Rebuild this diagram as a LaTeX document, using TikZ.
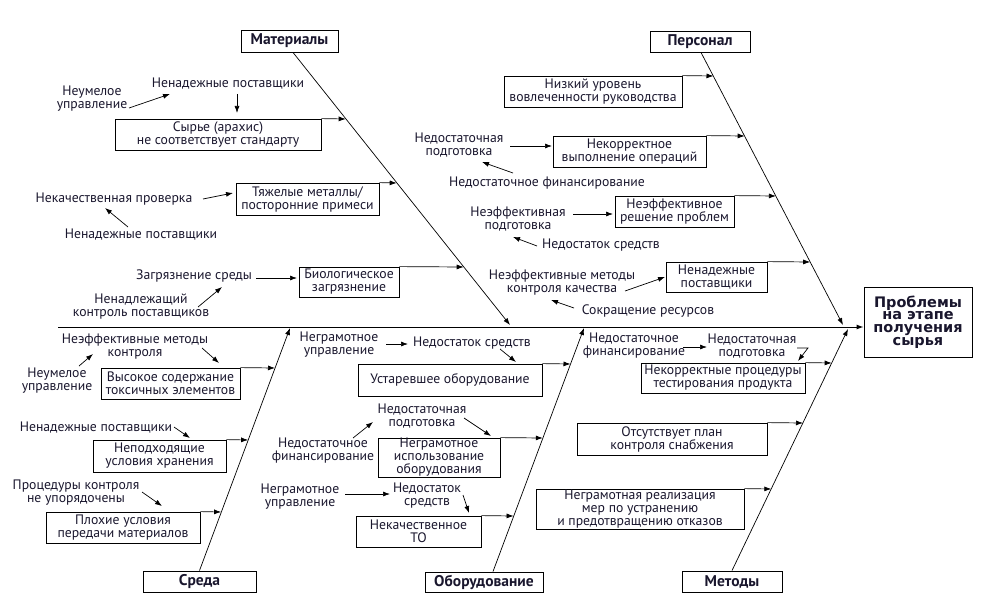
\documentclass[tikz,border=0pt]{standalone}
\usepackage{fontspec}
\setmainfont{PT Sans}
\newfontfamily\headfont{DejaVu Sans}
\usetikzlibrary{arrows.meta,calc}
\definecolor{txt}{RGB}{25,22,45}
\begin{document}
\begin{tikzpicture}[x=1pt,y=-1pt,
 every node/.style={font=\fontsize{13.7}{13}\selectfont, text=txt, align=center, inner sep=1pt},
 cbox/.style={draw=black, line width=0.8pt, inner sep=0pt},
 catbox/.style={draw=black, line width=0.9pt, inner sep=0pt, font=\fontsize{15.5}{16}\selectfont\bfseries},
 arr/.style={-{Latex[length=7pt,width=5pt]}, line width=0.7pt},
]
\useasboundingbox (0,0) rectangle (984,607);
% category boxes
\node[catbox, minimum width=97, minimum height=22] (mat) at (289.5,41) {Материалы};
\node[catbox, minimum width=100, minimum height=21] (per) at (700,41.5) {Персонал};
\node[catbox, minimum width=113, minimum height=21] (sre) at (199.5,581.5) {Среда};
\node[catbox, minimum width=118, minimum height=20] (obo) at (484,582) {Оборудование};
\node[catbox, minimum width=100, minimum height=21] (met) at (732,581.5) {Методы};
\node[draw=black, line width=0.9pt, minimum width=108, minimum height=70, inner sep=0pt,
      font=\headfont\fontsize{14.5}{12.8}\selectfont\bfseries] (head) at (918,322) {Проблемы\\на этапе\\получения\\сырья};
% spine
\coordinate (sp0) at (58,327);
\draw[arr, line width=1pt] (sp0) -- (sp0 -| head.west);
% bone tips
\coordinate (mtip) at (510,325);
\coordinate (ptip) at (843,325);
\coordinate (stip) at (290,328);
\coordinate (otip) at (584,328);
\coordinate (metip) at (848,329);
\draw[arr] ([xshift=3.5pt]mat.south) -- (mtip);
\draw[arr] ([xshift=1pt]per.south) -- (ptip);
\draw[arr] (sre.north) -- (stip);
\draw[arr] ([xshift=9pt]obo.north) -- (otip);
\draw[arr] (met.north) -- (metip);
% ---------- Materials
\node[cbox, minimum width=206, minimum height=31] (a1) at (218,134.5) {Сырье (арахис)\\не соответствует стандарту};
\node[cbox, minimum width=143, minimum height=32] (a2) at (307.5,199) {Тяжелые металлы/\\посторонние примеси};
\node[cbox, minimum width=100, minimum height=30] (a3) at (349,282) {Биологическое\\загрязнение};
\coordinate (ma1) at (345.7,119);
\coordinate (ma2) at (396.7,183);
\coordinate (ma3) at (463.7,267);
\draw[arr] (a1.north east) -- (ma1);
\draw[arr] (a2.north east) -- (ma2);
\draw[arr] (a3.north east) -- (ma3);
\node (nemu1) at (92,99) {Неумелое\\управление};
\node (nenad1) at (228,84) {Ненадежные поставщики};
\node (nekach) at (114,199) {Некачественная проверка};
\node (nenad2) at (141,235) {Ненадежные поставщики};
\node (zagr) at (194,276) {Загрязнение среды};
\node (nenadl) at (141,307) {Ненадлежащий\\контроль поставщиков};
\draw[arr] ($(nemu1)+(37,9)$) -- ($(nenad1)+(-58,10)$);
\draw[arr] ($(nenad1)+(9,10)$) -- ($(a1)+(19,-21.5)$);
\draw[arr] ($(nekach)+(89,0)$) -- ($(a2)+(-74.5,-6)$);
\draw[arr] ($(nenad2)+(-13,-8)$) -- ($(nekach)+(-9,9)$);
\draw[arr] ($(zagr)+(62,2)$) -- ($(a3)+(-52,-4)$);
\draw[arr] ($(nenadl)+(57,0)$) -- ($(zagr)+(28,11)$);
% ---------- Personnel
\node[cbox, minimum width=178, minimum height=31] (p1) at (593,91.5) {Низкий уровень\\вовлеченности руководства};
\node[cbox, minimum width=153, minimum height=31] (p2) at (629.5,151.5) {Некорректное\\выполнение операций};
\node[cbox, minimum width=119, minimum height=31] (p3) at (674.5,211.5) {Неэффективное\\решение проблем};
\node[cbox, minimum width=101, minimum height=30] (p4) at (716.5,277) {Ненадежные\\поставщики};
\coordinate (mp1) at (713.5,76);
\coordinate (mp2) at (744.7,136);
\coordinate (mp3) at (775.9,196);
\coordinate (mp4) at (810.2,262);
\draw[arr] (p1.north east) -- (mp1);
\draw[arr] (p2.north east) -- (mp2);
\draw[arr] (p3.north east) -- (mp3);
\draw[arr] (p4.north east) -- (mp4);
\node (nedpodg1) at (459,145) {Недостаточная\\подготовка};
\node (nedfin1) at (547,183) {Недостаточное финансирование};
\node (neefpodg) at (518,219) {Неэффективная\\подготовка};
\node (nedsr1) at (601,245) {Недостаток средств};
\node (neefmet) at (562,283) {Неэффективные методы\\контроля качества};
\node (sokr) at (648,311) {Сокращение ресурсов};
\draw[arr] ($(nedpodg1)+(51,1)$) -- ($(p2)+(-77.5,-5.5)$);
\draw[arr] ($(nedfin1)+(-34,-10)$) -- ($(nedpodg1)+(23,17)$);
\draw[arr] ($(neefpodg)+(55,-5)$) -- ($(p3)+(-61.5,2.5)$);
\draw[arr] ($(nedsr1)+(-64,1)$) -- ($(neefpodg)+(-5,18)$);
\draw[arr] ($(neefmet)+(63,8)$) -- ($(p4)+(-51.5,0)$);
\draw[arr] ($(sokr)+(-74,-3)$) -- ($(neefmet)+(-11,17)$);
% ---------- Environment
\node[cbox, minimum width=139, minimum height=31] (s1) at (170.5,383.5) {Высокое содержание\\токсичных элементов};
\node[cbox, minimum width=133, minimum height=32] (s2) at (159.5,456) {Неподходящие\\условия хранения};
\node[cbox, minimum width=154, minimum height=31] (s3) at (123,527.5) {Плохие условия\\передачи материалов};
\coordinate (ms1) at (275.0,368);
\coordinate (ms2) at (248.1,440);
\coordinate (ms3) at (221.1,512);
\draw[arr] (s1.north east) -- (ms1);
\draw[arr] (s2.north east) -- (ms2);
\draw[arr] (s3.north east) -- (ms3);
\node (neefk) at (135,347) {Неэффективные методы\\контроля};
\node (nemu2) at (57,381) {Неумелое\\управление};
\node (nenad3) at (96,428) {Ненадежные поставщики};
\node (proc) at (76,493) {Процедуры контроля\\не упорядочены};
\draw[arr] ($(neefk)+(67,1)$) -- ($(s1)+(48.5,-20.5)$);
\draw[arr] ($(nemu2)+(22,-15)$) -- ($(neefk)+(-42,7)$);
\draw[arr] ($(nenad3)+(78,-1)$) -- ($(s2)+(30.5,-18)$);
\draw[arr] ($(proc)+(66,-1)$) -- ($(s3)+(39,-21.5)$);
% ---------- Equipment
\node[cbox, minimum width=184, minimum height=32] (e1) at (450,380) {Устаревшее оборудование};
\node[cbox, minimum width=122, minimum height=39] (e2) at (439,457.5) {Неграмотное\\использование\\оборудования};
\node[cbox, minimum width=125, minimum height=31] (e3) at (418.5,531.5) {Некачественное\\ТО};
\coordinate (me1) at (570.5,364);
\coordinate (me2) at (542.8,438);
\coordinate (me3) at (513.6,516);
\draw[arr] (e1.north east) -- (me1);
\draw[arr] (e2.north east) -- (me2);
\draw[arr] (e3.north east) -- (me3);
\node (negr1) at (339,345) {Неграмотное\\управление};
\node (nedsr2) at (472,343) {Недостаток средств};
\node (nedfin2) at (323,451) {Недостаточное\\финансирование};
\node (nedpodg2) at (422,416) {Недостаточная\\подготовка};
\node (negr2) at (300,497) {Неграмотное\\управление};
\node (nedsr3) at (427,496) {Недостаток\\средств};
\draw[arr] ($(negr1)+(47,-1)$) -- ($(nedsr2)+(-64,1)$);
\draw[arr] ($(nedsr2)+(28,6)$) -- ($(e1)+(66,-18)$);
\draw[arr] ($(nedfin2)+(30,-13)$) -- ($(nedpodg2)+(-49,6)$);
\draw[arr] ($(nedpodg2)+(42,2)$) -- ($(e2)+(52,-21.5)$);
\draw[arr] ($(negr2)+(45,-3)$) -- ($(nedsr3)+(-37,-2)$);
\draw[arr] ($(nedsr3)+(36,-1)$) -- ($(e3)+(50.5,-18.5)$);
% ---------- Methods
\node[cbox, minimum width=164, minimum height=30] (m1) at (723,378) {Некорректные процедуры\\тестирования продукта};
\node[cbox, minimum width=190, minimum height=32] (m2) at (672,439) {Отсутствует план\\контроля снабжения};
\node[cbox, minimum width=208, minimum height=40] (m3) at (640,509) {Неграмотная реализация\\мер по устранению\\и предотвращению отказов};
\coordinate (mm1) at (831.7,363);
\coordinate (mm2) at (803,423);
\coordinate (mm3) at (771.3,489);
\draw[arr] (m1.north east) -- (mm1);
\draw[arr] (m2.north east) -- (mm2);
\draw[arr] (m3.north east) -- (mm3);
\node (nedfin3) at (634,346) {Недостаточное\\финансирование};
\node (nedpodg3) at (752,346) {Недостаточная\\подготовка};
\draw[arr] ($(nedfin3)+(49,1)$) -- ($(nedpodg3)+(-45,1)$);
\draw[arr] ($(nedpodg3)+(45,2)$) -- ($(nedpodg3)+(56,2)$) -- ($(m1)+(75,-17)$);
\end{tikzpicture}
\end{document}
